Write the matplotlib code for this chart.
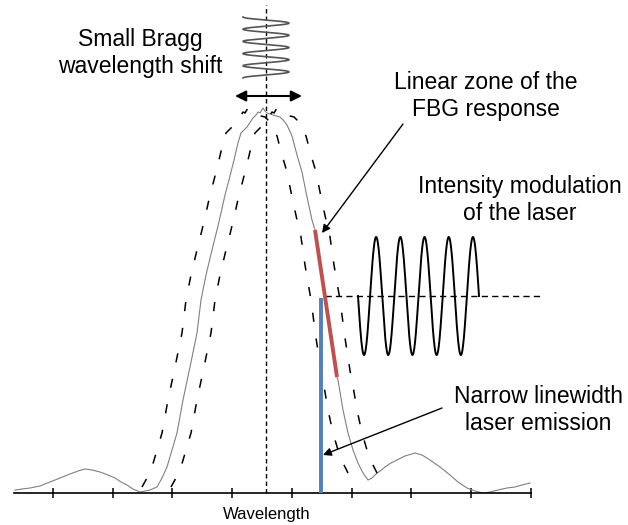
#!/usr/bin/env python3

import numpy as np

import matplotlib
matplotlib.use('Agg')
import matplotlib.pyplot as plt

plt.rcParams['font.family'] = ['Liberation Sans', 'DejaVu Sans']

# FBG reflection spectrum (x: wavelength, arbitrary units;
# y: reflectivity level above the baseline, same units)
spec_x = [15, 22, 30, 40, 50, 60, 70, 78, 85, 92, 100, 108, 115, 121, 127,
          133, 140, 145, 150, 157, 162, 167, 172, 177, 183, 190, 197, 201,
          206, 212, 217, 221, 225, 229, 234, 238, 241, 247, 253, 256, 258,
          260, 263, 265, 267, 270, 273, 276, 280, 284, 287, 292, 297, 302,
          307, 312, 315, 320, 326, 331, 337, 338, 343, 348, 353, 358, 363,
          368, 372, 376, 380, 385, 391, 397, 405, 415, 422, 430, 440, 450,
          458, 467, 475, 483, 490, 498, 507, 515, 522, 530]
spec_y = [3, 4, 5, 7, 11, 15, 19, 22, 24, 23, 21, 18, 15, 11, 8,
          4, 1, 2, 3, 6, 15, 26, 43, 60, 93, 126, 160, 193,
          218, 243, 263, 280, 298, 313, 333, 350, 360, 366, 375, 378, 381,
          380, 385, 382, 380, 379, 378, 377, 376, 372, 368, 357, 338, 321,
          296, 273, 263, 228, 193, 155, 116, 113, 83, 60, 43, 30, 20,
          13, 15, 19, 22, 26, 30, 33, 37, 40, 38, 33, 26, 18,
          11, 5, 2, 0, 1, 3, 5, 6, 8, 10]

# main lobe of the spectrum shifted by a small Bragg wavelength shift
lobe_range = (157, 368)
bragg_shift = [-15, 14]

tick_pos = [53.3, 113, 172.3, 232.3, 292.3, 352, 411.3, 471, 530.5]
x_min, x_max = 14, 531
y_top = 493

bragg_center = 266

# linear zone of the FBG response (red) and the laser line (blue)
linear_x = [315, 337]
linear_y = [263, 116]
laser_x = 321
laser_top = 195

# intensity modulation of the laser
mod_start, mod_period, mod_cycles = 358, 24.2, 5
mod_level, mod_amp = 197, 59
mod_line = [325, 543]

# small Bragg wavelength shift sketch at the top
strain_top, strain_period, strain_cycles, strain_amp = 476, 12.2, 5, 23
shift_arrow = [235, 302]
shift_level = 397


def main():
    fig = plt.figure(figsize=(6.28, 5.25), dpi=100)
    ax = fig.add_axes([x_min/628, (525-y_top)/525, (x_max-x_min)/628, y_top/525])
    ax.set_xlim(x_min, x_max)
    ax.set_ylim(0, y_top)

    for s in ['top', 'left', 'right']:
        ax.spines[s].set_visible(False)
    ax.spines['bottom'].set_linewidth(1.2)
    ax.set_yticks([])
    ax.set_xticks(tick_pos)
    ax.set_xticklabels([])
    ax.tick_params(axis='x', direction='inout', length=7, width=1.1)

    sx = np.array(spec_x, dtype=float)
    sy = np.array(spec_y, dtype=float)
    ax.plot(sx, sy, color='#808080', lw=0.8, zorder=2)

    m = (sx >= lobe_range[0]) & (sx <= lobe_range[1])
    for d in bragg_shift:
        ax.plot(sx[m] + d, sy[m], color='k', lw=1.1, ls=(0, (6, 11)), zorder=2)

    ax.plot([bragg_center, bragg_center], [0, 488], color='k', lw=1.0,
            ls=(0, (3.2, 2.2)), zorder=1)

    ax.plot(linear_x, linear_y, color='#c0504d', lw=2.8, solid_capstyle='butt', zorder=4)
    ax.plot([laser_x, laser_x], [0, laser_top], color='#4f81bd', lw=2.8,
            solid_capstyle='butt', zorder=3)

    ax.plot(mod_line, [mod_level, mod_level], color='k', lw=1.0, ls=(0, (4.5, 3)),
            clip_on=False, zorder=3)
    xm = np.linspace(mod_start, mod_start + mod_period*mod_cycles, 400)
    ym = mod_level - mod_amp*np.sin(2*np.pi*(xm - mod_start)/mod_period)
    ax.plot(xm, ym, color='k', lw=1.4, zorder=3)

    yv = np.linspace(strain_top, strain_top - strain_period*strain_cycles, 400)
    xv = bragg_center - strain_amp*np.cos(2*np.pi*(strain_top - yv)/strain_period)
    ax.plot(xv, yv, color='#555555', lw=1.2, zorder=3)

    ax.annotate('', xy=(shift_arrow[1], shift_level), xytext=(shift_arrow[0], shift_level),
                arrowprops=dict(arrowstyle='<|-|>', color='k', lw=1.5,
                                mutation_scale=16, shrinkA=0, shrinkB=0))

    ax.annotate('', xy=(322, 260), xytext=(403, 369),
                arrowprops=dict(arrowstyle='-|>', color='k', lw=1.0,
                                mutation_scale=12, shrinkA=0, shrinkB=0))
    ax.annotate('', xy=(323, 38), xytext=(442, 85),
                arrowprops=dict(arrowstyle='-|>', color='k', lw=1.0,
                                mutation_scale=12, shrinkA=0, shrinkB=0))

    fs = 16.5
    ax.text(140, 440, 'Small Bragg\nwavelength shift', ha='center', va='center',
            fontsize=fs, linespacing=1.2)
    ax.text(486, 397, 'Linear zone of the\nFBG response', ha='center', va='center',
            fontsize=fs, linespacing=1.2)
    ax.text(520, 293, 'Intensity modulation\nof the laser', ha='center', va='center',
            fontsize=fs, linespacing=1.2)
    ax.text(538, 83, 'Narrow linewidth\nlaser emission', ha='center', va='center',
            fontsize=fs, linespacing=1.2)
    ax.text(267, -21, 'Wavelength', ha='center', va='center', fontsize=12)

    fig.savefig('out.png', dpi=100)


if __name__ == "__main__":
    main()
